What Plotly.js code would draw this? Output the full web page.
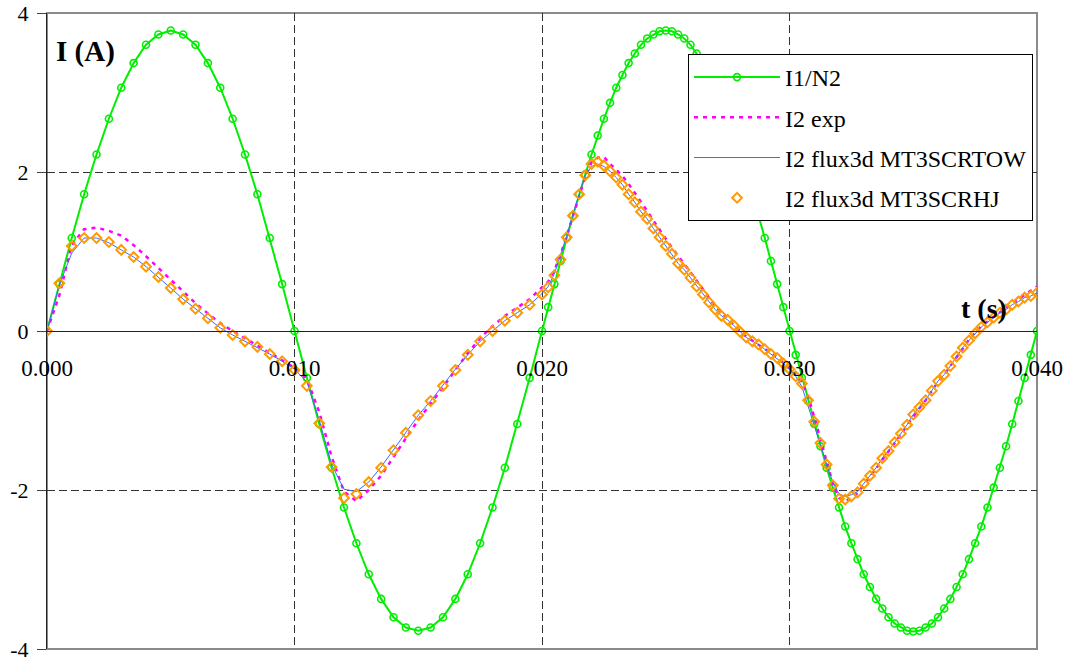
<!DOCTYPE html>
<html>
<head>
<meta charset="utf-8">
<script src="https://cdn.plot.ly/plotly-3.0.1.min.js"></script>
<style>
html,body{margin:0;padding:0;background:#fff;}
#chart{width:1070px;height:663px;}
</style>
</head>
<body>
<div id="chart"></div>
<script>
// Time samples (s)
var time = [0,0.0005,0.001,0.0015,0.002,0.0025,0.003,0.0035,0.004,0.0045,0.005,0.0055,0.006,0.0065,0.007,0.0075,0.008,0.0085,0.009,0.0095,0.01,0.0105,0.011,0.0115,0.012,0.0125,0.013,0.0135,0.014,0.0145,0.015,0.0155,0.016,0.0165,0.017,0.0175,0.018,0.0185,0.019,0.0195,0.02,
0.02025,0.0205,0.02075,0.021,0.02125,0.0215,0.02175,0.022,0.02225,0.0225,0.02275,0.023,0.02325,0.0235,0.02375,0.024,0.02425,0.0245,0.02475,0.025,
0.02525,0.0255,0.02575,0.026,0.02625,0.0265,0.02675,0.027,0.02725,0.0275,0.02775,0.028,0.02825,0.0285,0.02875,0.029,0.02925,0.0295,0.02975,0.03,
0.03025,0.0305,0.03075,0.031,0.03125,0.0315,0.03175,0.032,0.03225,0.0325,0.03275,0.033,0.03325,0.0335,0.03375,0.034,0.03425,0.0345,0.03475,0.035,
0.03525,0.0355,0.03575,0.036,0.03625,0.0365,0.03675,0.037,0.03725,0.0375,0.03775,0.038,0.03825,0.0385,0.03875,0.039,0.03925,0.0395,0.03975,0.04];

// I1/N2 (A)
var i1n2 = [0,0.59,1.17,1.72,2.22,2.67,3.06,3.37,3.60,3.73,3.78,3.73,3.60,3.37,3.06,2.67,2.22,1.72,1.17,0.59,0,
-0.59,-1.17,-1.72,-2.22,-2.67,-3.06,-3.37,-3.60,-3.73,-3.77,-3.73,-3.60,-3.37,-3.06,-2.67,-2.22,-1.72,-1.17,-0.59,0,
0.30,0.59,0.88,1.17,1.45,1.72,1.97,2.22,2.46,2.67,2.87,3.06,3.22,3.37,3.49,3.60,3.68,3.73,3.77,3.78,
3.77,3.73,3.68,3.60,3.49,3.37,3.22,3.06,2.87,2.67,2.46,2.22,1.97,1.72,1.45,1.17,0.88,0.59,0.30,0,
-0.30,-0.59,-0.88,-1.17,-1.45,-1.72,-1.97,-2.22,-2.46,-2.67,-2.87,-3.06,-3.22,-3.37,-3.49,-3.60,-3.68,-3.73,-3.77,-3.78,
-3.77,-3.73,-3.68,-3.60,-3.49,-3.37,-3.22,-3.06,-2.87,-2.67,-2.46,-2.22,-1.97,-1.72,-1.45,-1.17,-0.88,-0.59,-0.30,0];

// I2 exp (A)
var i2exp = [0,0.45,1.08,1.28,1.30,1.26,1.20,1.08,0.94,0.79,0.65,0.49,0.35,0.22,0.10,0.00,-0.09,-0.18,-0.27,-0.36,-0.46,
-0.60,-1.02,-1.58,-2.02,-2.14,-2.00,-1.82,-1.58,-1.35,-1.12,-0.92,-0.71,-0.49,-0.28,-0.09,0.06,0.19,0.30,0.40,0.55,
0.62,0.76,0.96,1.20,1.45,1.70,1.94,2.12,2.18,2.19,2.10,2.03,1.95,1.85,1.74,1.62,1.51,1.39,1.27,1.16,
1.05,0.94,0.84,0.74,0.63,0.52,0.41,0.31,0.23,0.15,0.08,0.00,-0.07,-0.12,-0.17,-0.22,-0.28,-0.33,-0.40,-0.47,
-0.55,-0.64,-0.82,-1.08,-1.36,-1.64,-1.92,-2.10,-2.14,-2.10,-2.04,-1.94,-1.84,-1.73,-1.62,-1.52,-1.41,-1.30,-1.19,-1.07,
-0.97,-0.87,-0.76,-0.64,-0.55,-0.44,-0.32,-0.21,-0.11,-0.02,0.06,0.12,0.18,0.24,0.29,0.35,0.40,0.45,0.50,0.56];

// I2 flux3d MT3SCRTOW (A)
var i2tow = [0,0.58,0.98,1.17,1.17,1.11,1.02,0.93,0.81,0.68,0.54,0.40,0.28,0.16,0.04,-0.05,-0.13,-0.20,-0.29,-0.38,-0.48,
-0.64,-1.12,-1.68,-1.99,-2.02,-1.90,-1.71,-1.49,-1.27,-1.06,-0.88,-0.68,-0.48,-0.30,-0.13,0.00,0.13,0.23,0.33,0.47,
0.56,0.72,0.95,1.20,1.47,1.73,1.96,2.07,2.10,2.07,2.01,1.93,1.84,1.72,1.62,1.50,1.41,1.29,1.18,1.07,
0.97,0.85,0.77,0.67,0.56,0.46,0.36,0.27,0.19,0.14,0.07,-0.01,-0.08,-0.13,-0.17,-0.23,-0.29,-0.34,-0.41,-0.48,
-0.57,-0.70,-0.95,-1.18,-1.43,-1.68,-1.90,-2.05,-2.08,-2.06,-2.02,-1.92,-1.82,-1.72,-1.60,-1.51,-1.40,-1.29,-1.18,-1.05,
-0.96,-0.87,-0.75,-0.63,-0.55,-0.44,-0.32,-0.21,-0.12,-0.03,0.05,0.11,0.17,0.23,0.27,0.33,0.37,0.42,0.44,0.48];

// I2 flux3d MT3SCRHJ (A)
var i2hj = [0,0.60,1.07,1.17,1.17,1.12,1.02,0.93,0.81,0.68,0.54,0.40,0.28,0.16,0.04,-0.05,-0.13,-0.20,-0.29,-0.38,-0.49,
-0.69,-1.16,-1.71,-2.10,-2.05,-1.90,-1.72,-1.50,-1.28,-1.06,-0.88,-0.69,-0.49,-0.30,-0.13,0.00,0.13,0.23,0.33,0.46,
0.55,0.70,0.90,1.18,1.45,1.72,1.96,2.10,2.13,2.08,2.01,1.93,1.84,1.72,1.62,1.50,1.41,1.29,1.18,1.07,
0.97,0.85,0.77,0.67,0.56,0.46,0.36,0.27,0.19,0.14,0.07,-0.01,-0.08,-0.13,-0.17,-0.23,-0.29,-0.34,-0.41,-0.48,
-0.57,-0.66,-0.87,-1.14,-1.41,-1.68,-1.94,-2.11,-2.12,-2.08,-2.03,-1.92,-1.82,-1.72,-1.60,-1.51,-1.40,-1.29,-1.18,-1.05,
-0.96,-0.87,-0.75,-0.63,-0.55,-0.44,-0.32,-0.21,-0.12,-0.03,0.05,0.11,0.17,0.23,0.27,0.33,0.37,0.42,0.44,0.48];

var seriesNames = ['I1/N2','I2 exp','I2 flux3d MT3SCRTOW','I2 flux3d MT3SCRHJ'];
var xTickVals = [0,0.01,0.02,0.03,0.04];
var xTickText = ['0.000','0.010','0.020','0.030','0.040'];
var yTickVals = [-4,-2,0,2,4];
var yTickText = ['-4','-2','0','2','4'];
var yAxisLabel = 'I (A)';
var xAxisLabel = 't (s)';

var FONT = '"Liberation Serif", "Times New Roman", serif';

var traces = [
  {x:time, y:i1n2, name:seriesNames[0], legendgroup:'a', mode:'lines+markers', type:'scatter',
   line:{color:'#00ee00', width:2},
   marker:{symbol:'circle-open', size:7, color:'#00ee00', line:{width:1.6}}},
  {x:time, y:i2exp, name:seriesNames[1], legendgroup:'b', mode:'lines', type:'scatter',
   line:{color:'#ff00ff', width:2.5, dash:'4px,5px'}},
  {x:time, y:i2tow, name:seriesNames[2], legendgroup:'c', mode:'lines', type:'scatter',
   line:{color:'#3a6cff', width:1}},
  {x:time, y:i2hj, name:seriesNames[3], legendgroup:'d', mode:'markers', type:'scatter',
   marker:{symbol:'diamond-open', size:7.5, color:'#ff9a00', line:{width:2}}}
];

var layout = {
  width:1070, height:663,
  margin:{l:47, r:33, t:13, b:14, pad:0},
  paper_bgcolor:'#ffffff', plot_bgcolor:'#ffffff',
  font:{family:FONT, size:23, color:'#000'},
  showlegend:true,
  legend:{x:0.6475, y:0.9355, xanchor:'left', yanchor:'top',
          bgcolor:'#ffffff', bordercolor:'#000', borderwidth:1,
          font:{family:FONT, size:24, color:'#000'},
          itemwidth:86, traceorder:'grouped', tracegroupgap:6},
  xaxis:{range:[0,0.04], tickvals:xTickVals, ticktext:xTickText,
         anchor:'free', position:0.5, showline:true, linecolor:'#222', linewidth:1,
         ticks:'', ticklabelstandoff:16, ticklabeloverflow:'allow',
         showgrid:true, gridcolor:'#333', gridwidth:1, griddash:'8px,4px',
         zeroline:false, tickfont:{family:FONT, size:23, color:'#000'}},
  yaxis:{range:[-4,4], tickvals:yTickVals, ticktext:yTickText,
         showline:true, linecolor:'#222', linewidth:1,
         ticks:'outside', ticklen:9, tickcolor:'#444', tickwidth:1, ticklabelstandoff:4,
         ticklabeloverflow:'allow',
         showgrid:true, gridcolor:'#333', gridwidth:1, griddash:'8px,4px',
         zeroline:false, tickfont:{family:FONT, size:22, color:'#000'}},
  shapes:[
    {type:'rect', xref:'paper', yref:'paper', x0:0, x1:1, y0:0, y1:1,
     line:{color:'#8a8a8a', width:2}, layer:'between'}
  ],
  annotations:[
    {xref:'paper', yref:'paper', x:0.007, y:0.940, xanchor:'left', yanchor:'middle',
     text:'<b>'+yAxisLabel+'</b>', showarrow:false, font:{family:FONT, size:29, color:'#000'}},
    {xref:'paper', yref:'paper', x:0.972, y:0.5346, xanchor:'right', yanchor:'middle',
     text:'<b>'+xAxisLabel+'</b>', showarrow:false, font:{family:FONT, size:28, color:'#000'}}
  ]
};

Plotly.newPlot('chart', traces, layout, {displayModeBar:false, staticPlot:true});
</script>
</body>
</html>
